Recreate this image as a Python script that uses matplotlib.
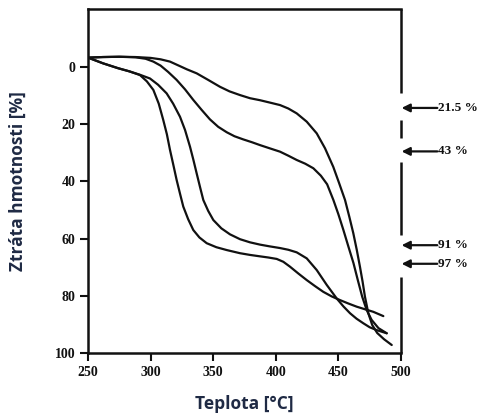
import matplotlib
matplotlib.use("Agg")
import matplotlib.pyplot as plt

# ---- data ----
temp_a = [250, 262, 275, 288, 300, 308, 315.5, 322, 329, 336.8, 346, 355.4, 363, 371.4, 379.4, 387.4, 395,
          403.4, 410, 416.7, 424.7, 432.7, 439.3, 445.9, 450.5, 455.3, 458.8, 461.9, 464.7, 467.2, 469.3,
          471.2, 473.9, 477, 481, 486.5, 492.6]
loss_a = [-3.3, -3.5, -3.6, -3.5, -3.2, -2.7, -1.9, -0.6, 0.8, 2.2, 4.5, 6.9, 8.5, 9.8, 10.9, 11.6, 12.4,
          13.3, 14.5, 16.2, 19.1, 23.2, 28.4, 34.9, 40.5, 46.5, 52.5, 58.1, 64.0, 69.8, 75.0,
          80.3, 86.1, 90.2, 93.0, 95.2, 97.2]

temp_b = [250, 262, 275, 288, 296, 302.2, 308, 314, 320.8, 327.5, 334.1, 340.8, 347.4, 354, 360.8, 367,
          374, 381, 387.4, 395, 403.4, 410, 416.7, 423.5, 430, 436, 441, 446, 450, 454, 458, 462, 465.5,
          469, 472.6, 476.5, 482, 488.6]
loss_b = [-3.3, -3.5, -3.6, -3.4, -2.9, -1.9, -0.5, 1.7, 4.5, 7.8, 11.5, 15.0, 18.3, 20.9, 22.8, 24.2,
          25.3, 26.3, 27.3, 28.4, 29.6, 31.0, 32.5, 33.8, 35.4, 38.0, 41.0, 46.5, 51.5, 57.0, 62.8, 68.5, 74.5,
          80.3, 85.0, 88.4, 91.3, 93.1]

temp_c = [250, 262, 274, 283, 291.5, 299.5, 306, 312.8, 318, 323.5, 327.5, 331.5, 334.2, 336.8, 339.5,
          342.1, 346, 350.1, 356.5, 363.4, 371.4, 379.4, 387.4, 395, 403.4, 410, 416.7, 424.7, 432.7,
          440.7, 448.6, 454, 459.3, 464.5, 469.9, 475, 480.6, 488.6]
loss_c = [-3.3, -1.3, 0.4, 1.5, 2.7, 4.0, 6.2, 9.2, 12.8, 17.4, 22.0, 27.9, 32.5, 37.2, 42.0,
          46.5, 50.3, 53.5, 56.4, 58.5, 60.2, 61.3, 62.1, 62.7, 63.3, 63.9, 64.8, 66.9, 71.0,
          76.2, 80.9, 83.7, 86.1, 88.0, 89.6, 91.0, 92.0, 93.1]

temp_d = [250, 262, 274, 283, 291.5, 297, 302.2, 306.5, 310.1, 313, 315.5, 318.2, 320.8, 323.5, 326.1,
          330, 334.1, 339, 344.8, 352.5, 360.8, 371.4, 379.4, 387.4, 394, 400.7, 406, 411.3, 418,
          424.7, 431.3, 437.9, 444.6, 451.3, 458, 464.6, 471.2, 477.9, 485.9]
loss_d = [-3.3, -1.3, 0.4, 1.5, 2.8, 5.0, 8.0, 12.8, 18.5, 23.5, 29.0, 34.3, 39.5, 44.3, 48.8,
          53.2, 57.0, 59.6, 61.6, 63.0, 64.0, 65.1, 65.7, 66.2, 66.6, 67.1, 68.1, 69.8, 72.2,
          74.5, 76.6, 78.6, 80.2, 81.5, 82.7, 83.8, 84.7, 85.6, 87.1]

arrow_labels = ["21.5 %", "43 %", "91 %", "97 %"]
arrow_levels = [14.3, 29.5, 62.3, 68.8]

x_ticks = [250, 300, 350, 400, 450, 500]
y_ticks = [0, 20, 40, 60, 80, 100]

# ---- figure ----
fig = plt.figure(figsize=(4.82, 4.17), dpi=100)
ax = fig.add_axes([88/482, 1-353/417, (401-88)/482, (353-9)/417])

for t, l in [(temp_a, loss_a), (temp_b, loss_b), (temp_c, loss_c), (temp_d, loss_d)]:
    ax.plot(t, l, color="#111111", lw=1.6, solid_capstyle="round", solid_joinstyle="round")

ax.set_xlim(250, 500)
ax.set_ylim(100, -20.3)
ax.set_xticks(x_ticks)
ax.set_yticks(y_ticks)

tick_font = dict(family="Liberation Serif", size=10, weight="bold")
ax.set_xticklabels([str(v) for v in x_ticks], **tick_font)
ax.set_yticklabels([str(v) for v in y_ticks], **tick_font)
ax.tick_params(direction="out", length=6, width=1.5, colors="#111111", pad=3)

for s in ["left", "bottom", "top"]:
    ax.spines[s].set_linewidth(1.8)
    ax.spines[s].set_color("#111111")
ax.spines["right"].set_visible(False)

# broken right border
segments = [(-20.3, 9.1), (18.5, 24.8), (33.2, 58.7), (73.4, 100)]
for y0, y1 in segments:
    ax.plot([500, 500], [y0, y1], color="#111111", lw=1.8, clip_on=False, solid_capstyle="butt")

# arrows with labels
for lab, lev in zip(arrow_labels, arrow_levels):
    ax.annotate("", xy=(500.5, lev), xytext=(529, lev), xycoords="data",
                arrowprops=dict(arrowstyle="-|>", color="#111111", lw=1.6,
                                mutation_scale=12, shrinkA=0, shrinkB=0),
                annotation_clip=False)
    ax.text(529.5, lev, lab, ha="left", va="center", family="Liberation Serif",
            size=9.5, weight="bold", color="#111111", clip_on=False)

ax.set_xlabel("Teplota [°C]", family="Open Sans", size=12.5, weight="bold",
              color="#1f2a44", labelpad=12)
ax.set_ylabel("Ztráta hmotnosti [%]", family="Open Sans", size=12.5, weight="bold",
              color="#1f2a44", labelpad=20)

fig.savefig("out.png", dpi=100)
